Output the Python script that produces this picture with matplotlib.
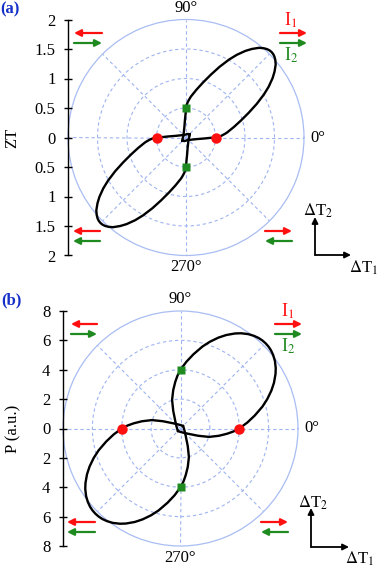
import numpy as np
import matplotlib
matplotlib.use('Agg')
import matplotlib.pyplot as plt

plt.rcParams['font.family'] = ['Liberation Serif', 'DejaVu Serif']
plt.rcParams['mathtext.fontset'] = 'stix'

W, H = 378, 568

# ---- data ----
# Each lobe is given as a half-width profile: distance along the lobe axis (u)
# and half-width across it (h).  The second lobe is the mirror image through
# the origin (axis at 45 deg + 180 deg).

# panel (a): ZT
rmax_a = 2.0
rings_a = [0.5, 1.0, 1.5]
yticks_a = [-2, -1.5, -1, -0.5, 0, 0.5, 1, 1.5, 2]
ylabels_a = ['2', '1.5', '1', '0.5', '0', '0.5', '1', '1.5', '2']
lobe_axes_a = [45, 225]
lobe_u_a = [-0.08, -0.06, -0.03, 0.0, 0.1, 0.2, 0.28, 0.354, 0.4, 0.45, 0.5,
            0.55, 0.7, 0.86, 1.05, 1.25, 1.45, 1.6, 1.75, 1.85, 1.95, 2.0,
            2.03, 2.045, 2.05]
lobe_h_a = [0.0, 0.025, 0.04, 0.06, 0.14, 0.225, 0.29, 0.354, 0.384, 0.405,
            0.42, 0.432, 0.448, 0.455, 0.455, 0.445, 0.418, 0.382, 0.326,
            0.272, 0.20, 0.14, 0.089, 0.045, 0.0]
red_ang_a, red_r_a = [0, 180], [0.5, 0.5]
grn_ang_a, grn_r_a = [90, 270], [0.5, 0.5]

# panel (b): P (a.u.)
rmax_b = 8.0
rings_b = [2, 4, 6]
yticks_b = [-8, -6, -4, -2, 0, 2, 4, 6, 8]
ylabels_b = ['8', '6', '4', '2', '0', '2', '4', '6', '8']
lobe_axes_b = [45, 225]
lobe_u_b = [-0.24, -0.2, -0.1, 0.1, 0.5, 0.97, 1.5, 2.0, 2.4, 2.83, 3.5, 4.2,
            5.0, 5.6, 6.2, 6.7, 7.2, 7.5, 7.8, 8.0, 8.12, 8.18, 8.2]
lobe_h_b = [0.0, 0.1, 0.28, 0.6, 1.2, 1.78, 2.2, 2.5, 2.69, 2.83, 2.93, 2.95,
            2.89, 2.76, 2.55, 2.30, 1.95, 1.67, 1.29, 0.92, 0.59, 0.30, 0.0]
red_ang_b, red_r_b = [0, 180], [4.0, 4.0]
grn_ang_b, grn_r_b = [90, 270], [4.0, 4.0]

RED = '#ff1010'
GREEN = '#1f8a1f'
GRID = '#9fb4f0'


def draw_lobe(ax, u, h, ang_deg):
    u = np.asarray(u)
    h = np.asarray(h)
    uu = np.concatenate([u, u[::-1]])
    vv = np.concatenate([h, -h[::-1]])
    t = np.radians(ang_deg)
    x = uu * np.cos(t) - vv * np.sin(t)
    y = uu * np.sin(t) + vv * np.cos(t)
    ax.plot(x, y, color='black', lw=1.7, solid_joinstyle='round')


def panel(rect, rmax, rings, yt, yl, ylabel, lab_x, lobe_axes, lu, lh,
          red_ang, red_r, grn_ang, grn_r):
    pax = fig.add_axes(rect, projection='polar')
    pax.set_ylim(0, rmax)
    pax.set_rticks(rings)
    pax.set_yticklabels([])
    pax.set_thetagrids(np.arange(0, 360, 45), labels=[''] * 8)
    pax.grid(True, color=GRID, ls=(0, (3, 2.5)), lw=0.8)
    pax.spines['polar'].set_color('#a9bdf3')
    pax.spines['polar'].set_linewidth(0.9)
    pax.tick_params(length=0)
    for ang, txt in [(0, '0°'), (90, '90°'), (270, '270°')]:
        rr = rmax * (1.12 if ang == 0 else 1.1)
        pax.text(np.radians(ang), rr, txt, ha='center', va='center',
                 fontsize=12, clip_on=False)

    cax = fig.add_axes(rect)
    cax.set_facecolor('none')
    cax.set_xlim(-rmax, rmax)
    cax.set_ylim(-rmax, rmax)
    for s in ['top', 'right', 'bottom']:
        cax.spines[s].set_visible(False)
    cax.spines['left'].set_linewidth(1.0)
    cax.set_xticks([])
    cax.set_yticks(yt)
    cax.set_yticklabels(yl, fontsize=12)
    cax.tick_params(axis='y', direction='inout', length=6, width=1, pad=6)
    cax.text(lab_x, 0.5, ylabel, rotation=90, fontsize=12, ha='center',
             va='center', transform=cax.transAxes)

    for a in lobe_axes:
        draw_lobe(cax, lu, lh, a)
    ra = np.radians(red_ang)
    cax.plot(np.array(red_r) * np.cos(ra), np.array(red_r) * np.sin(ra), 'o',
             color=RED, ms=7.5, mec='none', clip_on=False)
    ga = np.radians(grn_ang)
    cax.plot(np.array(grn_r) * np.cos(ga), np.array(grn_r) * np.sin(ga), 's',
             color=GREEN, ms=6.3, mec='none', clip_on=False)
    return pax, cax


fig = plt.figure(figsize=(W / 100, H / 100), dpi=100)

panel([68 / W, 1 - 255.5 / H, 236 / W, 236 / H], rmax_a, rings_a, yticks_a,
      ylabels_a, 'ZT', (12 - 68) / 236, lobe_axes_a, lobe_u_a, lobe_h_a,
      red_ang_a, red_r_a, grn_ang_a, grn_r_a)
panel([63 / W, 1 - 546 / H, 235 / W, 235 / H], rmax_b, rings_b, yticks_b,
      ylabels_b, 'P (a.u.)', (13 - 63) / 235, lobe_axes_b, lobe_u_b, lobe_h_b,
      red_ang_b, red_r_b, grn_ang_b, grn_r_b)

# ---- annotation layer in pixel coordinates ----
fax = fig.add_axes([0, 0, 1, 1])
fax.set_xlim(0, W)
fax.set_ylim(H, 0)
fax.axis('off')


def arrow(x0, x1, y0, y1, color, lw=1.6, ms=10):
    fax.annotate('', xy=(x1, y1), xytext=(x0, y0),
                 arrowprops=dict(arrowstyle='-|>', color=color, lw=lw,
                                 mutation_scale=ms, shrinkA=0, shrinkB=0))


# current arrows: (tail x, head x, y, colour)
cur_arrows = [
    (102, 74, 33, RED), (74, 102, 43, GREEN),
    (280, 307, 33, RED), (280, 307, 43, GREEN),
    (100, 73, 231, RED), (100, 73, 241, GREEN),
    (265, 292, 231, RED), (292, 265, 241, GREEN),
    (97, 71, 324, RED), (71, 97, 334, GREEN),
    (275, 302, 324, RED), (275, 302, 334, GREEN),
    (95, 67, 522, RED), (95, 67, 532, GREEN),
    (261, 288, 522, RED), (288, 261, 532, GREEN),
]
for x0, x1, y, c in cur_arrows:
    arrow(x0, x1, y, y, c)

for x, y1, y2 in [(291, 20, 55), (288, 311, 346)]:
    fax.text(x, y1, 'I$_1$', color=RED, fontsize=13, ha='center', va='center')
    fax.text(x, y2, 'I$_2$', color=GREEN, fontsize=13, ha='center', va='center')

# delta-T axes
for bx, by, ty, rx, t2, t1 in [(315, 255, 217, 351, (318, 211), (364, 268)),
                               (311, 547, 508, 349, (313, 503), (360, 559))]:
    arrow(bx, bx, by, ty, 'black', lw=1.3, ms=9)
    arrow(bx, rx, by, by, 'black', lw=1.3, ms=9)
    fax.text(*t2, r'$\Delta$T$_2$', fontsize=12, ha='center', va='center')
    fax.text(*t1, r'$\Delta$T$_1$', fontsize=12, ha='center', va='center')

fax.text(10, 9, '(a)', color='#1530c8', fontsize=12, fontweight='bold',
         ha='center', va='center')
fax.text(11, 300, '(b)', color='#1530c8', fontsize=12, fontweight='bold',
         ha='center', va='center')

fig.savefig('out.png', dpi=100)
